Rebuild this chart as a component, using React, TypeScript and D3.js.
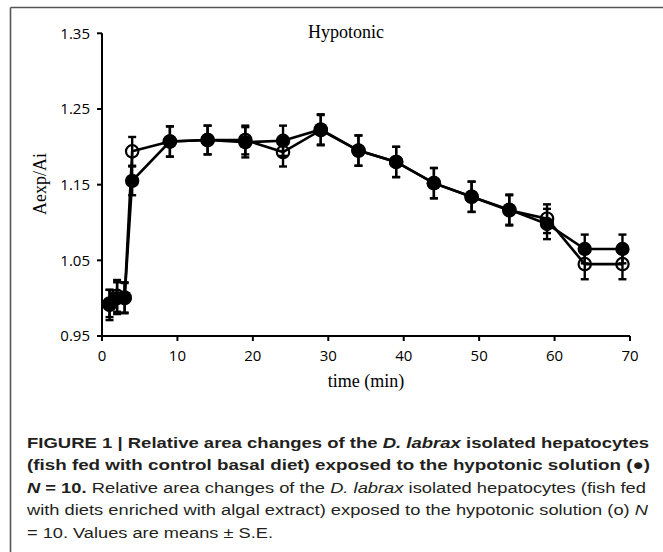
import React from "react";
import * as d3 from "d3";

const times = [1, 2, 3, 4, 9, 14, 19, 24, 29, 34, 39, 44, 49, 54, 59, 64, 69];
const controlMean = [0.991, 1.0, 1.001, 1.155, 1.207, 1.209, 1.206, 1.208, 1.223, 1.195, 1.18, 1.152, 1.134, 1.117, 1.098, 1.065, 1.065];
const controlSE = [0.02, 0.021, 0.02, 0.019, 0.02, 0.019, 0.02, 0.02, 0.02, 0.02, 0.02, 0.02, 0.02, 0.02, 0.02, 0.019, 0.019];
const algalMean = [0.993, 1.003, 1.0, 1.194, 1.207, 1.209, 1.209, 1.193, 1.222, 1.195, 1.18, 1.152, 1.134, 1.116, 1.105, 1.045, 1.045];
const algalSE = [0.018, 0.021, 0.02, 0.019, 0.02, 0.019, 0.019, 0.019, 0.02, 0.02, 0.02, 0.02, 0.02, 0.02, 0.019, 0.02, 0.02];
const xTicks = [0, 10, 20, 30, 40, 50, 60, 70];
const yTicks = [0.95, 1.05, 1.15, 1.25, 1.35];

const W = 663;
const H = 552;
const x = d3.scaleLinear().domain([0, 70]).range([102, 630]);
const y = d3.scaleLinear().domain([0.95, 1.35]).range([336, 33.3]);

const INK = "#000";
const CAP = "#231f20";

function Series({ means, ses, open }: { means: number[]; ses: number[]; open: boolean }) {
  const line = d3
    .line<number>()
    .x((_, i) => x(times[i]))
    .y((d) => y(d));
  return (
    <g>
      <path d={line(means) || ""} fill="none" stroke={INK} strokeWidth={2.6} />
    </g>
  );
}

function ErrorBars({ means, ses }: { means: number[]; ses: number[] }) {
  return (
    <g stroke={INK} strokeWidth={2.4}>
      {means.map((m, i) => {
        const cx = x(times[i]);
        const yt = y(m + ses[i]);
        const yb = y(m - ses[i]);
        return (
          <g key={i}>
            <line x1={cx} x2={cx} y1={yt} y2={yb} />
            <line x1={cx - 4} x2={cx + 4} y1={yt} y2={yt} />
            <line x1={cx - 4} x2={cx + 4} y1={yb} y2={yb} />
          </g>
        );
      })}
    </g>
  );
}

export default function App() {
  const capStyle = { fontFamily: "'Liberation Sans', Arial, sans-serif", fontSize: 15.5, fill: CAP } as const;
  return (
    <svg width={W} height={H} style={{ position: "absolute", left: 0, top: 0, background: "#fff" }}>
      <rect x={0} y={0} width={W} height={H} fill="#fff" />
      {/* frame */}
      <line x1={10.5} x2={W} y1={7.5} y2={7.5} stroke="#555" strokeWidth={1.6} />
      <line x1={10.5} x2={10.5} y1={7.5} y2={H} stroke="#555" strokeWidth={1.6} />

      {/* axes */}
      <g stroke={INK} strokeWidth={2}>
        <line x1={x(0)} x2={x(0)} y1={y(1.35)} y2={y(0.95)} />
        <line x1={x(0)} x2={x(70)} y1={y(0.95)} y2={y(0.95)} />
        {yTicks.map((t) => (
          <line key={t} x1={x(0) - 5} x2={x(0)} y1={y(t)} y2={y(t)} />
        ))}
        {xTicks.map((t) => (
          <line key={t} x1={x(t)} x2={x(t)} y1={y(0.95)} y2={y(0.95) + 5} />
        ))}
      </g>
      <g style={{ fontFamily: "'Open Sans', sans-serif", fontSize: 15 }} fill={INK}>
        {yTicks.map((t) => (
          <text key={t} x={90} y={y(t) + 5.3} textAnchor="end">
            {t.toFixed(2)}
          </text>
        ))}
        {xTicks.map((t) => (
          <text key={t} x={x(t)} y={360.5} textAnchor="middle">
            {t}
          </text>
        ))}
      </g>
      <g style={{ fontFamily: "'Liberation Serif', 'Times New Roman', serif", fontSize: 18 }} fill={INK}>
        <text x={346} y={38.3} textAnchor="middle">Hypotonic</text>
        <text x={366} y={387} textAnchor="middle">time (min)</text>
        <text transform={`translate(46,184) rotate(-90)`} textAnchor="middle">Aexp/Ai</text>
      </g>

      {/* data */}
      <Series means={algalMean} ses={algalSE} open={true} />
      <Series means={controlMean} ses={controlSE} open={false} />
      <ErrorBars means={algalMean} ses={algalSE} />
      <ErrorBars means={controlMean} ses={controlSE} />
      <g fill={INK}>
        {controlMean.map((m, i) => (
          <circle key={i} cx={x(times[i])} cy={y(m)} r={7.2} />
        ))}
      </g>
      <g fill="none" stroke={INK} strokeWidth={2.2}>
        {algalMean.map((m, i) => (
          <circle key={i} cx={x(times[i])} cy={y(m)} r={6.2} />
        ))}
      </g>

      {/* caption */}
      <g style={capStyle}>
        <text x={27} y={447.5} textLength={622} lengthAdjust="spacingAndGlyphs" fontWeight="bold">
          FIGURE 1 | Relative area changes of the <tspan fontStyle="italic">D. labrax</tspan> isolated hepatocytes
        </text>
        <text x={27} y={470} textLength={623} lengthAdjust="spacingAndGlyphs" fontWeight="bold">
          (fish fed with control basal diet) exposed to the hypotonic solution (●)
        </text>
        <text x={27} y={492.5} textLength={619} lengthAdjust="spacingAndGlyphs">
          <tspan fontWeight="bold" fontStyle="italic">N</tspan>
          <tspan fontWeight="bold"> = 10.</tspan> Relative area changes of the{" "}
          <tspan fontStyle="italic">D. labrax</tspan> isolated hepatocytes (fish fed
        </text>
        <text x={27} y={515} textLength={621} lengthAdjust="spacingAndGlyphs">
          with diets enriched with algal extract) exposed to the hypotonic solution (o){" "}
          <tspan fontStyle="italic">N</tspan>
        </text>
        <text x={27} y={537.5} textLength={246} lengthAdjust="spacingAndGlyphs">
          = 10. Values are means ± S.E.
        </text>
      </g>
    </svg>
  );
}
